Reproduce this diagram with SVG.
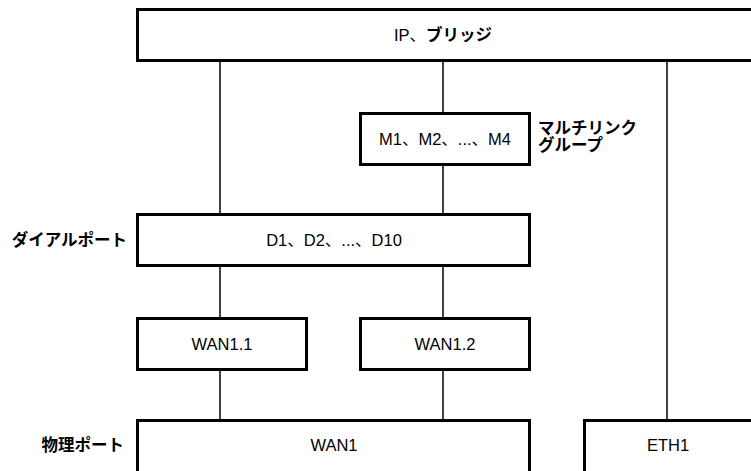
<svg xmlns="http://www.w3.org/2000/svg" width="751" height="471" viewBox="0 0 751 471">
<style>
.box{fill:#fff;stroke:#000;stroke-width:3}
.con{stroke:#000;stroke-width:1.5;fill:none}
text{font-family:"Liberation Sans","Noto Sans CJK JP",sans-serif;font-size:16.5px;fill:#000}
.c{text-anchor:middle}
.b{font-weight:bold}
</style>
<rect width="751" height="471" fill="#fff"/>
<g id="connectors">
<line class="con" x1="220" y1="61" x2="220" y2="214"/>
<line class="con" x1="443" y1="61" x2="443" y2="113"/>
<line class="con" x1="443" y1="165" x2="443" y2="214"/>
<line class="con" x1="667" y1="61" x2="667" y2="420"/>
<line class="con" x1="220" y1="266" x2="220" y2="318"/>
<line class="con" x1="443" y1="266" x2="443" y2="318"/>
<line class="con" x1="220" y1="370" x2="220" y2="420"/>
<line class="con" x1="443" y1="370" x2="443" y2="420"/>
</g>
<g id="ip">
<rect class="box" x="137.5" y="9.5" width="630" height="51"/>
<text class="c" x="443" y="41">IP、<tspan class="b">ブリッジ</tspan></text>
</g>
<g id="multilink">
<rect class="box" x="360.5" y="113.5" width="169" height="51"/>
<text class="c" x="445" y="145">M1、M2、...、M4</text>
<text class="b" x="538" y="134">マルチリンク</text>
<text class="b" x="538" y="151">グループ</text>
</g>
<g id="dial">
<rect class="box" x="137.5" y="214.5" width="392" height="51"/>
<text class="c" x="334" y="246">D1、D2、...、D10</text>
<text class="b" x="127" y="246" text-anchor="end">ダイアルポート</text>
</g>
<g id="wan11">
<rect class="box" x="137.5" y="318.5" width="169" height="51"/>
<text class="c" x="222" y="350">WAN1.1</text>
</g>
<g id="wan12">
<rect class="box" x="360.5" y="318.5" width="169" height="51"/>
<text class="c" x="445" y="350">WAN1.2</text>
</g>
<g id="wan1">
<rect class="box" x="137.5" y="420.5" width="392" height="70"/>
<text class="c" x="334" y="451">WAN1</text>
<text class="b" x="124" y="451" text-anchor="end">物理ポート</text>
</g>
<g id="eth1">
<rect class="box" x="584.5" y="420.5" width="200" height="70"/>
<text class="c" x="668" y="451">ETH1</text>
</g>
</svg>
